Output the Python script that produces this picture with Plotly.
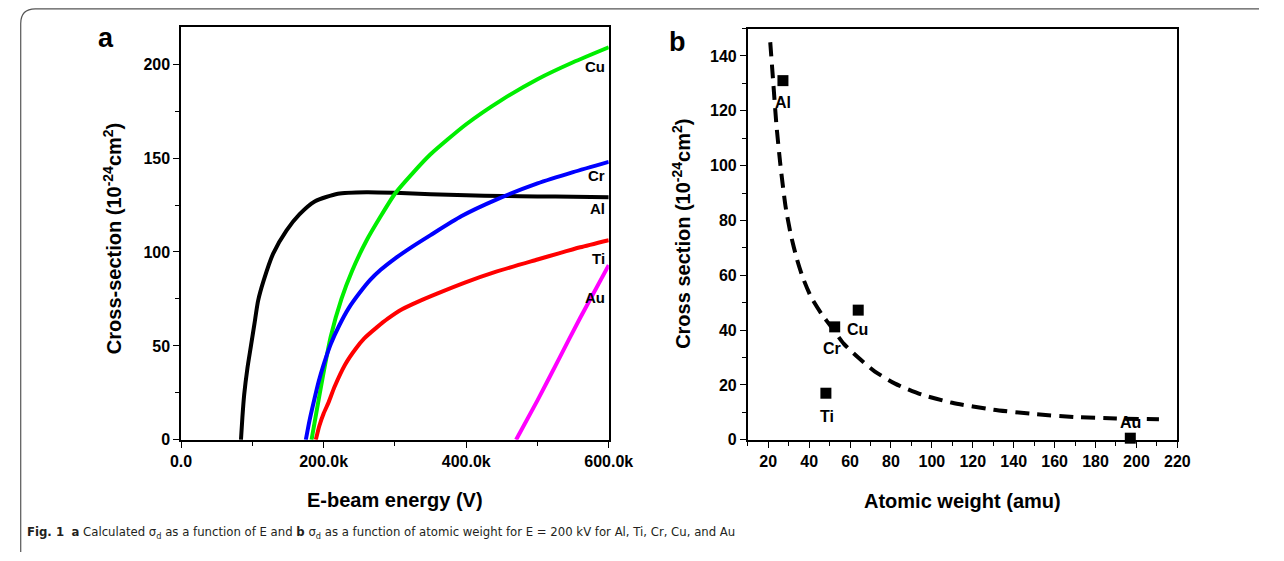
import plotly.graph_objects as go

W, H = 1284, 561

# ---------------- Panel a data (E in kV, cross-section in 1e-24 cm^2) ----------------
al_E = [84, 86, 88.5, 93, 98, 103, 108, 116, 129, 148, 166, 188, 220, 260, 300, 350, 400, 450, 500, 550, 600]
al_s = [0, 12, 24, 38, 50, 62, 74, 85, 99, 111.5, 120, 127, 131, 131.8, 131.5, 130.8, 130.2, 129.8, 129.6, 129.4, 129.2]

cu_E = [183, 190, 200, 210, 225, 240, 260, 280, 300, 325, 350, 400, 450, 500, 550, 600]
cu_s = [0, 15, 36, 55, 75, 90, 106, 119, 131, 142, 152, 168, 181, 192, 201, 209]

cr_E = [175, 180, 186, 193, 200, 210, 222, 235, 250, 265, 280, 300, 325, 350, 393, 443, 500, 550, 600]
cr_s = [0, 10, 20, 31, 40, 51, 61, 70, 78, 85, 90.5, 96.5, 103, 109, 119, 128, 136.5, 142.5, 148]

ti_E = [189, 194, 200, 207, 215, 230, 245, 257, 275, 290, 310, 335, 360, 400, 440, 500, 530, 560, 600]
ti_s = [0, 7.5, 14, 20, 28, 40, 48.5, 54, 60, 64.5, 69.5, 74, 78, 84, 89.3, 96, 99.3, 102.5, 106.3]

au_E = [470, 500, 530, 560, 600]
au_s = [0, 21, 43, 65, 93]

a_labels = ["Cu", "Cr", "Al", "Ti", "Au"]
a_label_y = [199, 140.5, 123, 96.7, 75.6]

a_xticks = [0, 200, 400, 600]
a_xticktext = ["0.0", "200.0k", "400.0k", "600.0k"]

# ---------------- Panel b data ----------------
b_elements = ["Al", "Ti", "Cr", "Cu", "Au"]
b_weight = [27.2, 48.2, 52.5, 64.0, 197.0]
b_sigma = [131.0, 17.0, 41.2, 47.3, 0.6]
b_label_x = [27.2, 48.8, 51.3, 63.8, 197.0]
b_label_y = [123.0, 8.6, 33.4, 40.4, 6.2]

fit_x = [21, 22.5, 24, 26, 28.5, 31, 34, 37, 41, 46, 51, 57, 64, 72, 82, 95, 110, 130, 150, 170, 190, 211]
fit_y = [145, 130, 115, 100, 85, 75, 66, 59, 52, 46, 41, 35, 30, 25, 20.5, 16.5, 13.5, 11, 9.4, 8.3, 7.8, 7.5]


def px(x):
    return x / W


def py(y):
    return 1 - y / H


FONT = "Liberation Sans, Arial, sans-serif"

fig = go.Figure()

curve_specs = [
    (al_E, al_s, "#000000"),
    (cu_E, cu_s, "#00ee00"),
    (cr_E, cr_s, "#0000ff"),
    (ti_E, ti_s, "#ff0000"),
    (au_E, au_s, "#ff00ff"),
]
for xs, ys, col in curve_specs:
    fig.add_trace(go.Scatter(x=xs, y=ys, mode="lines", xaxis="x", yaxis="y",
                             line=dict(color=col, width=4, shape="spline", smoothing=0.6),
                             showlegend=False, hoverinfo="skip"))

fig.add_trace(go.Scatter(x=fit_x, y=fit_y, mode="lines", xaxis="x2", yaxis="y2",
                         line=dict(color="#000000", width=4, dash="14px,8px", shape="spline", smoothing=0.6),
                         showlegend=False, hoverinfo="skip"))
fig.add_trace(go.Scatter(x=b_weight, y=b_sigma, mode="markers", xaxis="x2", yaxis="y2",
                         marker=dict(symbol="square", size=11, color="#000000"),
                         cliponaxis=False, showlegend=False, hoverinfo="skip"))

annotations = []
for lab, yv in zip(a_labels, a_label_y):
    annotations.append(dict(x=597, y=yv, xref="x", yref="y", text=lab, showarrow=False,
                            xanchor="right", yanchor="middle",
                            font=dict(family=FONT, size=15, color="#000", weight="bold")))
for lab, xv, yv in zip(b_elements, b_label_x, b_label_y):
    annotations.append(dict(x=xv, y=yv, xref="x2", yref="y2", text=lab, showarrow=False,
                            xanchor="center", yanchor="middle",
                            font=dict(family=FONT, size=16, color="#000", weight="bold")))

title_font = dict(family=FONT, size=20, color="#000", weight="bold")


def ann(x, y, text, font, **kw):
    d = dict(x=px(x), y=py(y), xref="paper", yref="paper", text=text, showarrow=False,
             xanchor="center", yanchor="middle", font=font)
    d.update(kw)
    return d


annotations += [
    ann(98, 39, "a", dict(family=FONT, size=27, color="#000", weight="bold")),
    ann(686, 43, "b", dict(family=FONT, size=27, color="#000", weight="bold")),
    ann(395, 508, "E-beam energy (V)", title_font),
    ann(979, 509, "Atomic weight (amu)", title_font),
    ann(104, 243, "Cross-section (10<sup>-24</sup>cm<sup>2</sup>)", title_font, textangle=-90),
    ann(689, 238, "Cross section (10<sup>-24</sup>cm<sup>2</sup>)", title_font, textangle=-90),
    ann(14, 541,
        "<b>Fig. 1</b>  <b>a</b> Calculated σ<sub>d</sub> as a function of E and <b>b</b> σ<sub>d</sub> "
        "as a function of atomic weight for E = 200 kV for Al, Ti, Cr, Cu, and Au",
        dict(family="Liberation Sans Narrow, Arial Narrow, DejaVu Sans Condensed, sans-serif",
             size=13, color="#231f20"),
        xanchor="left"),
]

axis_common = dict(showline=True, linecolor="#000", linewidth=1.6, mirror=True,
                   ticks="outside", ticklen=6, tickwidth=1.4, tickcolor="#000",
                   showgrid=False, zeroline=False,
                   tickfont=dict(family=FONT, size=16, color="#000", weight="bold"))

fig.update_layout(
    width=W, height=H,
    margin=dict(l=0, r=0, t=0, b=0),
    paper_bgcolor="white", plot_bgcolor="white",
    xaxis=dict(domain=[px(175), px(615)], range=[0, 600], anchor="y",
               tickvals=a_xticks, ticktext=a_xticktext,
               minor=dict(tickvals=[100, 300, 500], ticks="outside", ticklen=4, tickcolor="#000"),
               **axis_common),
    yaxis=dict(domain=[py(447), py(27)], range=[0, 220], anchor="x",
               tickvals=[0, 50, 100, 150, 200],
               minor=dict(tickvals=[25, 75, 125, 175], ticks="outside", ticklen=4, tickcolor="#000"),
               **axis_common),
    xaxis2=dict(domain=[px(758), px(1200)], range=[10, 220], anchor="y2",
                tickvals=list(range(20, 221, 20)),
                minor=dict(tickvals=list(range(10, 221, 20)), ticks="outside", ticklen=4, tickcolor="#000"),
                **axis_common),
    yaxis2=dict(domain=[py(447), py(29)], range=[0, 150], anchor="x2",
                tickvals=list(range(0, 141, 20)),
                minor=dict(tickvals=list(range(10, 151, 20)), ticks="outside", ticklen=4, tickcolor="#000"),
                **axis_common),
    annotations=annotations,
    shapes=[dict(type="path", xref="paper", yref="paper",
                 path=f"M {px(10)},{py(561)} L {px(10)},{py(24)} Q {px(10)},{py(9)} {px(25)},{py(9)} L {px(1284)},{py(9)}",
                 line=dict(color="#555", width=1.2))],
)

fig.write_html("out.html")
